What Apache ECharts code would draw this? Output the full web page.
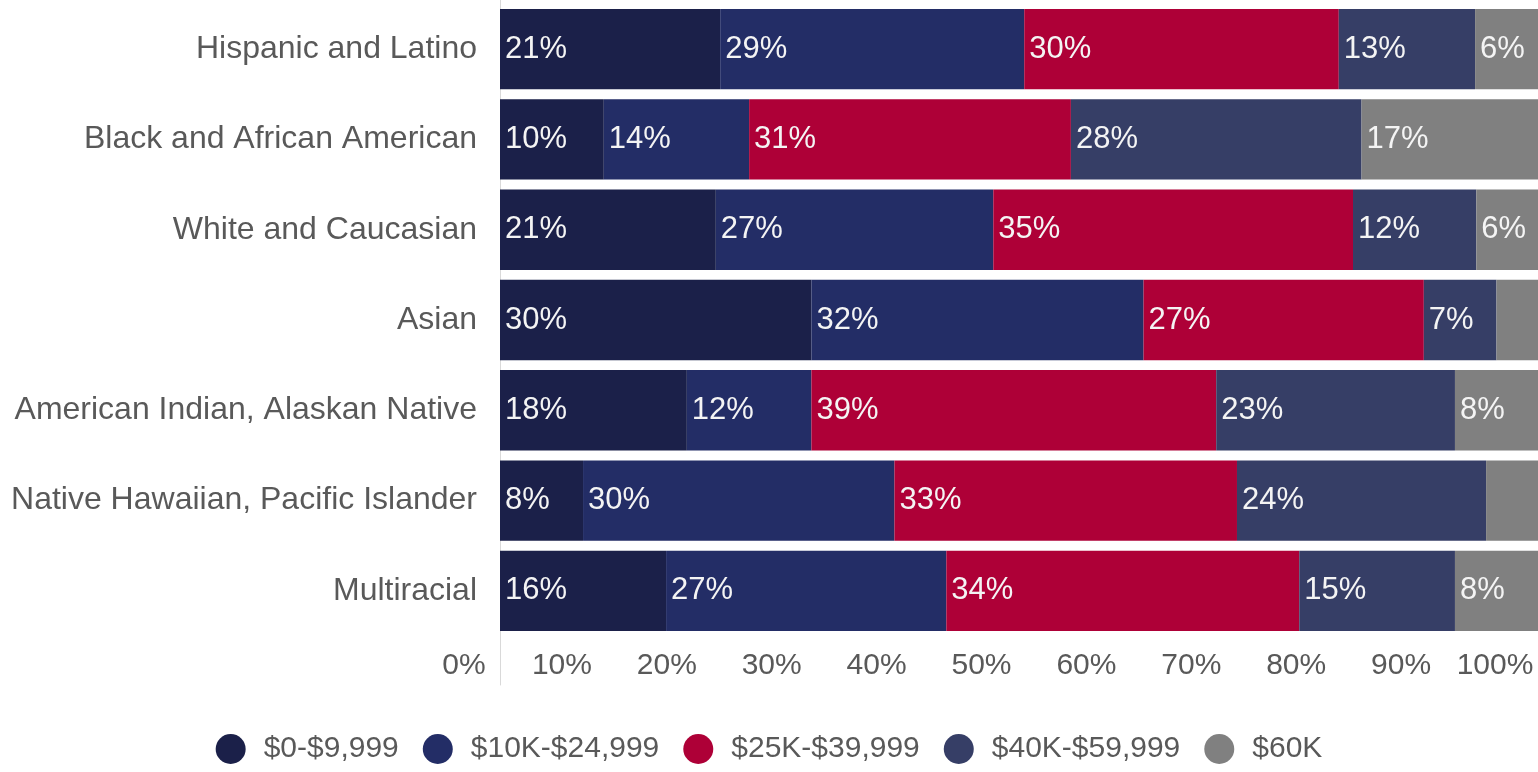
<!DOCTYPE html>
<html>
<head>
<meta charset="utf-8">
<script src="https://cdn.jsdelivr.net/npm/echarts@6/dist/echarts.min.js"></script>
<style>
  html, body { margin: 0; padding: 0; background: #ffffff; }
  #chart { width: 1538px; height: 772px; }
</style>
</head>
<body>
<div id="chart"></div>
<script>
// Household income bands by race / ethnicity (share of households, %)
const categories = [
  'Hispanic and Latino',
  'Black and African American',
  'White and Caucasian',
  'Asian',
  'American Indian, Alaskan Native',
  'Native Hawaiian, Pacific Islander',
  'Multiracial'
];
const bandNames = ['$0-$9,999', '$10K-$24,999', '$25K-$39,999', '$40K-$59,999', '$60K'];
const band0to10k   = [21, 10, 21, 30, 18, 8, 16];
const band10to25k  = [29, 14, 27, 32, 12, 30, 27];
const band25to40k  = [30, 31, 35, 27, 39, 33, 34];
const band40to60k  = [13, 28, 12, 7, 23, 24, 15];
const band60kPlus  = [6, 17, 6, 4, 8, 5, 8];
const tickValues   = [0, 10, 20, 30, 40, 50, 60, 70, 80, 90, 100];

const bandColors = ['#1b2049', '#232d66', '#ae0037', '#363e66', '#808080'];
const bandValues = [band0to10k, band10to25k, band25to40k, band40to60k, band60kPlus];
const FONT = '"Liberation Sans", Arial, sans-serif';
const TEXT_GREY = '#595959';

// 100% stacked: each row is scaled by its own total so the bar spans the full axis
const rowTotals = categories.map((_, r) => bandValues.reduce((s, b) => s + b[r], 0));

const series = bandValues.map((vals, i) => ({
  name: bandNames[i],
  type: 'bar',
  stack: 'total',
  xAxisIndex: 0,
  yAxisIndex: 0,
  barCategoryGap: '11%',
  itemStyle: { color: bandColors[i] },
  label: {
    show: true,
    position: 'insideLeft',
    distance: 5,
    color: '#f4f4f4',
    fontFamily: FONT,
    fontSize: 31,
    formatter: p => vals[p.dataIndex] + '%'
  },
  // the narrowest top-band slivers carry no label
  data: vals.map((v, r) => {
    const item = { value: v / rowTotals[r] * 100 };
    if (i === 4 && v < 6) item.label = { show: false };
    return item;
  })
}));

const chart = echarts.init(document.getElementById('chart'), null, { renderer: 'canvas' });
chart.setOption({
  animation: false,
  backgroundColor: '#ffffff',
  textStyle: { fontFamily: FONT },
  grid: [
    { left: 500, width: 1050, top: 4, height: 632 },
    { left: 457, width: 1049, top: 0, height: 685 }
  ],
  xAxis: [
    { gridIndex: 0, type: 'value', min: 0, max: 100, show: false },
    {
      gridIndex: 1,
      type: 'value',
      min: tickValues[0],
      max: tickValues[tickValues.length - 1],
      interval: tickValues[1] - tickValues[0],
      axisLine: { show: false },
      axisTick: { show: false },
      splitLine: { show: false },
      axisLabel: {
        inside: true,
        margin: 4,
        color: TEXT_GREY,
        fontFamily: FONT,
        fontSize: 30,
        formatter: v => v === tickValues[0] ? '{first|' + v + '%}'
                      : v === tickValues[tickValues.length - 1] ? '{last|' + v + '%}'
                      : '{mid|' + v + '%}',
        rich: {
          first: { color: TEXT_GREY, fontSize: 30, fontFamily: FONT, padding: [0, 0, 0, 14] },
          mid:   { color: TEXT_GREY, fontSize: 30, fontFamily: FONT },
          last:  { color: TEXT_GREY, fontSize: 30, fontFamily: FONT, padding: [0, 22, 0, 0] }
        }
      }
    }
  ],
  yAxis: [
    {
      gridIndex: 0,
      type: 'category',
      inverse: true,
      data: categories,
      axisLine: { show: false },
      axisTick: { show: false },
      axisLabel: { margin: 23, color: TEXT_GREY, fontFamily: FONT, fontSize: 32 }
    },
    {
      gridIndex: 1,
      type: 'value',
      min: 0,
      max: 1,
      offset: -43,
      axisLine: { show: true, lineStyle: { color: '#d9d9d9', width: 1 } },
      axisTick: { show: false },
      axisLabel: { show: false },
      splitLine: { show: false }
    }
  ],
  legend: {
    data: bandNames,
    bottom: 3,
    left: 'center',
    icon: 'circle',
    itemWidth: 30,
    itemHeight: 30,
    itemGap: 24,
    textStyle: { color: TEXT_GREY, fontFamily: FONT, fontSize: 30, padding: [0, 0, 0, 13] }
  },
  series: series
});
</script>
</body>
</html>
